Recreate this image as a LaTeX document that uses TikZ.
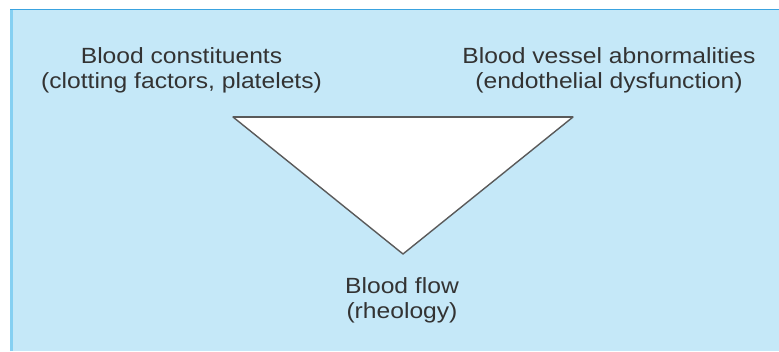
\documentclass[tikz,border=0pt]{standalone}
\usepackage{fontspec}
\setmainfont{Liberation Sans}
\newfontfamily\lblfont[FakeStretch=1.12]{Liberation Sans}
\definecolor{bgblue}{HTML}{C5E8F8}
\definecolor{edgeleft}{HTML}{86D0F2}
\definecolor{edgetop}{HTML}{3AA3E0}
\definecolor{txt}{HTML}{333333}
\definecolor{tri}{HTML}{5A5A5A}
\begin{document}
\begin{tikzpicture}[x=1pt,y=1pt,
  lbl/.style={align=center,inner sep=0pt,text=txt,font=\lblfont\fontsize{22}{25}\selectfont},
  trianglestyle/.style={draw=tri,fill=white,line width=1.4pt,line join=round}]
\useasboundingbox (0,0) rectangle (779,351);
\fill[white] (0,0) rectangle (779,351);
\fill[bgblue] (10,0) rectangle (779,342);
\draw[edgeleft,line width=3pt] (11.5,0) -- (11.5,342);
\draw[edgetop,line width=1.5pt] (10,341.5) -- (779,341.5);
\coordinate (tl) at (233,234);
\coordinate (tr) at (573,234);
\coordinate (bt) at (403,97);
\draw[trianglestyle] (tl) -- (tr) -- (bt) -- cycle;
\draw[tri,line width=2pt] (tl) -- (tr);
\node[lbl] (const) at (181.5,281) {Blood constituents\\(clotting factors, platelets)};
\node[lbl] (vessel) at (609,281) {Blood vessel abnormalities\\(endothelial dysfunction)};
\node[lbl] (flow) at (402,51) {Blood flow\\(rheology)};
\end{tikzpicture}
\end{document}
